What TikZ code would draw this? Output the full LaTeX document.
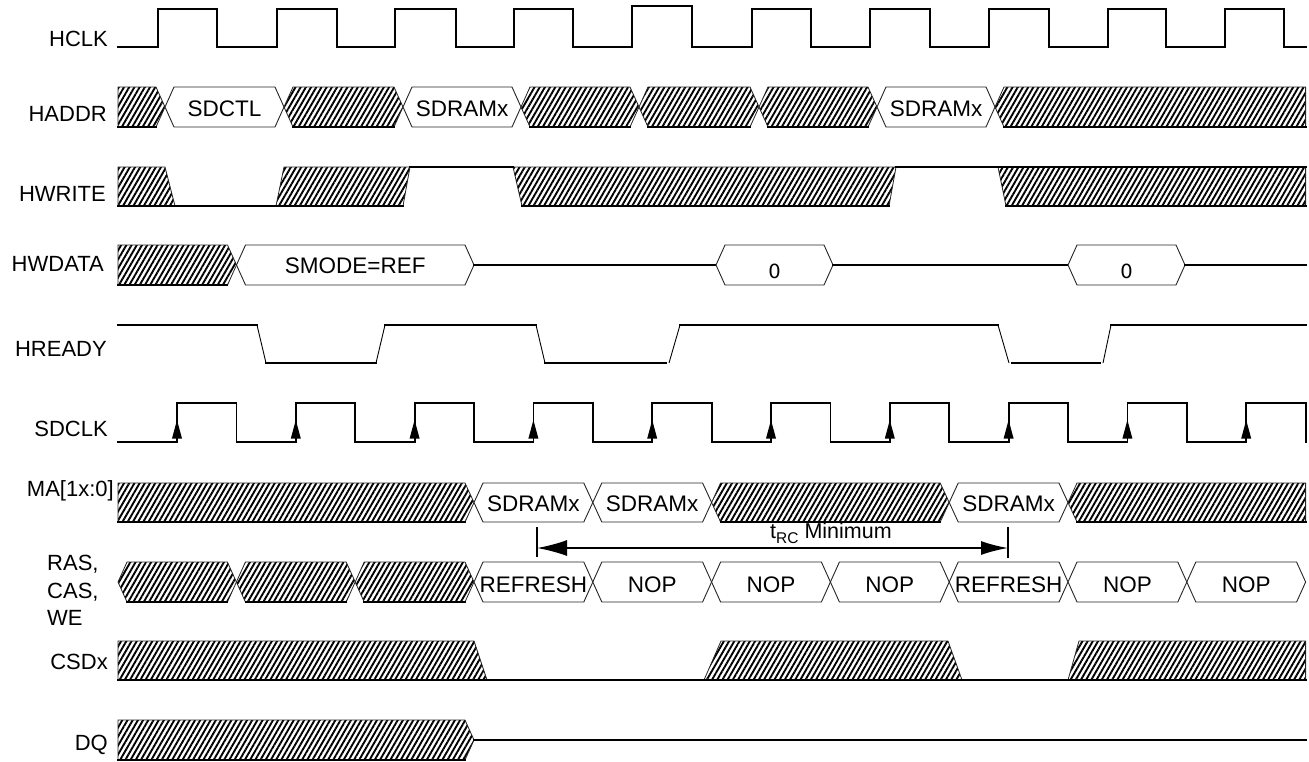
\documentclass[tikz,border=0pt]{standalone}
\usepackage{fontspec}
\setmainfont{Liberation Sans}
\newfontfamily\dejavu{DejaVu Sans}
\usetikzlibrary{patterns.meta,arrows.meta}

\tikzset{
  sig/.style={line width=1.8pt, line join=miter, line cap=rect},
  slant/.style={line width=0.9pt},
  outline/.style={draw=black!85, line width=0.9pt},
  hatchfill/.style={pattern={Lines[angle=60,distance=4.5pt,line width=1.9pt]}, draw=black!85, line width=0.8pt},
  lbl/.style={font=\fontsize{22}{26}\selectfont, inner sep=0pt},
  boxtxt/.style={font=\fontsize{22.5}{26}\selectfont, inner sep=0pt, anchor=base},
  zerotxt/.style={font=\dejavu\fontsize{19.5}{22}\selectfont, inner sep=0pt, anchor=base},
  arrowhead/.style={fill=black},
}

% hexagon outline of a bus segment: x1, x2, top, bottom, style
\newcommand{\HexShape}[5]{%
  \path[#5] (#1,{(#3+#4)/2}) -- (#1+9,#3) -- (#2-9,#3) -- (#2,{(#3+#4)/2})
            -- (#2-9,#4) -- (#1+9,#4) -- cycle;}
\newcommand{\HatchHex}[4]{%
  \HexShape{#1}{#2}{#3}{#4}{hatchfill}
  \draw[sig] (#1+9,#4) -- (#2-9,#4);}
% x1, x2, top, bottom, node name, text, text style, baseline offset
\newcommand{\DataHex}[8]{%
  \HexShape{#1}{#2}{#3}{#4}{outline,fill=white}
  \node[#7] (#5) at ({(#1+#2)/2},{(#3+#4)/2+#8}) {#6};}

\begin{document}
\begin{tikzpicture}[x=1pt,y=-1pt]
\useasboundingbox (0,0) rectangle (1309,761);

% ---------------- labels ----------------
\node[lbl,anchor=base east] (lhclk)   at (108,46.7)  {HCLK};
\node[lbl,anchor=base east] (lhaddr)  at (107,121.7) {HADDR};
\node[lbl,anchor=base east] (lhwrite) at (106,201.7) {HWRITE};
\node[lbl,anchor=base east] (lhwdata) at (104,271.7) {HWDATA};
\node[lbl,anchor=base east] (lhready) at (107,356)   {HREADY};
\node[lbl,anchor=base east] (lsdclk)  at (108,436)   {SDCLK};
\node[lbl,anchor=base east] (lma)     at (114,496.7) {MA[1x:0]};
\node[lbl,anchor=base west] (lras)    at (47,570)    {RAS,};
\node[lbl,anchor=base west] (lcas)    at (47,598)    {CAS,};
\node[lbl,anchor=base west] (lwe)     at (47,625)    {WE};
\node[lbl,anchor=base east] (lcsd)    at (108,669.3) {CSDx};
\node[lbl,anchor=base east] (ldq)     at (108,750.7) {DQ};

% ---------------- HCLK ----------------
\draw[sig] (118,47) -- (158,47) -- (158,9) -- (217,9) -- (217,47)
  -- (277,47) -- (277,9) -- (337,9) -- (337,47)
  -- (395,47) -- (395,9) -- (456,9) -- (456,47)
  -- (514,47) -- (514,9) -- (573,9) -- (573,47)
  -- (632,47) -- (632,6) -- (692,6) -- (692,47)
  -- (752,47) -- (752,9) -- (811,9) -- (811,47)
  -- (870,47) -- (870,9) -- (930,9) -- (930,47)
  -- (989,47) -- (989,9) -- (1049,9) -- (1049,47)
  -- (1108,47) -- (1108,9) -- (1166,9) -- (1166,47)
  -- (1225,47) -- (1225,9) -- (1284,9) -- (1284,47) -- (1305.6,47);

% ---------------- HADDR (87..127) ----------------
\path[hatchfill] (118,87) -- (156,87) -- (165,107) -- (156,127) -- (118,127) -- cycle;
\draw[sig] (118,127) -- (156,127);
\DataHex{165}{284}{87}{127}{haddr1}{SDCTL}{boxtxt}{9}
\HatchHex{284}{403}{87}{127}
\DataHex{403}{521}{87}{127}{haddr2}{SDRAMx}{boxtxt}{9}
\HatchHex{521}{639}{87}{127}
\HatchHex{639}{759}{87}{127}
\HatchHex{759}{877}{87}{127}
\DataHex{877}{995}{87}{127}{haddr3}{SDRAMx}{boxtxt}{9}
\path[hatchfill] (995,107) -- (1004,87) -- (1305.6,87) -- (1305.6,127) -- (1004,127) -- cycle;
\draw[sig] (1004,127) -- (1305.6,127);

% ---------------- HWRITE (167..206) ----------------
\path[hatchfill] (118,167) -- (165,167) -- (175,206) -- (118,206) -- cycle;
\path[hatchfill] (276,206) -- (284,167) -- (410,167) -- (403,206) -- cycle;
\path[hatchfill] (513,167) -- (896,167) -- (889,206) -- (522,206) -- cycle;
\path[hatchfill] (998,167) -- (1305.6,167) -- (1305.6,206) -- (1006,206) -- cycle;
\draw[sig] (118,206) -- (403,206);
\draw[sig] (410,167) -- (513,167);
\draw[sig] (522,206) -- (889,206);
\draw[sig] (896,167) -- (1305.6,167);
\draw[sig] (1006,206) -- (1305.6,206);

% ---------------- HWDATA (245..285) ----------------
\path[hatchfill] (118,245) -- (227.5,245) -- (236.5,265) -- (227.5,285) -- (118,285) -- cycle;
\draw[sig] (118,285) -- (227.5,285);
\DataHex{236.5}{474}{245}{285}{hwdata1}{SMODE=REF}{boxtxt}{8}
\draw[sig] (474,265) -- (716,265);
\DataHex{716}{833}{245}{285}{hwdata2}{0}{zerotxt}{13}
\draw[sig] (833,265) -- (1068,265);
\DataHex{1068}{1185}{245}{285}{hwdata3}{0}{zerotxt}{13}
\draw[sig] (1185,265) -- (1305.6,265);

% ---------------- HREADY (325 / 363) ----------------
\draw[sig] (118,325) -- (257,325);
\draw[slant] (257,325) -- (266,363);
\draw[sig] (266,363) -- (376,363);
\draw[slant] (376,363) -- (385,325);
\draw[sig] (385,325) -- (536,325);
\draw[slant] (536,325) -- (545,363);
\draw[sig] (545,363) -- (666,363);
\draw[slant] (669,363) -- (680,325);
\draw[sig] (680,325) -- (998,325);
\draw[slant] (998,325) -- (1009,363);
\draw[sig] (1012,363) -- (1100,363);
\draw[slant] (1103,363) -- (1111,325);
\draw[sig] (1111,325) -- (1305.6,325);

% ---------------- SDCLK (403 / 442) ----------------
\draw[sig] (118,442)
  foreach \r in {177,295.8,414.6,533.4,652.2,771,889.8,1008.6,1127.4,1246.2}
  { -- (\r,442) -- (\r,403) -- ({\r+59.4},403) -- ({\r+59.4},442) };
\foreach \r in {177,295.8,414.6,533.4,652.2,771,889.8,1008.6,1127.4,1246.2}
  \fill[arrowhead] (\r,420) -- (\r-5,438.5) -- (\r+5,438.5) -- cycle;

% ---------------- MA[1x:0] (483..522) ----------------
\path[hatchfill] (118,483) -- (465,483) -- (474,502.5) -- (465,522) -- (118,522) -- cycle;
\draw[sig] (118,522) -- (465,522);
\DataHex{474}{592.8}{483}{522}{ma1}{SDRAMx}{boxtxt}{9}
\DataHex{592.8}{711.6}{483}{522}{ma2}{SDRAMx}{boxtxt}{9}
\HatchHex{711.6}{949.2}{483}{522}
\DataHex{949.2}{1068}{483}{522}{ma3}{SDRAMx}{boxtxt}{9}
\path[hatchfill] (1068,502.5) -- (1077,483) -- (1305.6,483) -- (1305.6,522) -- (1077,522) -- cycle;
\draw[sig] (1077,522) -- (1305.6,522);

% ---------------- tRC Minimum ----------------
\coordinate (trcL) at (537,548);
\coordinate (trcR) at (1008,548);
\draw[line width=1.2pt] (537,527) -- (537,557);
\draw[line width=1.2pt] (1008,527) -- (1008,558);
\draw[line width=1.6pt, {Latex[length=30pt,width=16pt]}-{Latex[length=27pt,width=14pt]}] (trcL) -- (trcR);
\node[anchor=base west, inner sep=0pt, font=\fontsize{21.5}{25}\selectfont] (trc) at (770,538)
  {t\raisebox{-5pt}{\fontsize{15.5}{15}\selectfont RC} Minimum};

% ---------------- RAS, CAS, WE (562..602) ----------------
\HatchHex{118}{236.4}{562}{602}
\HatchHex{236.4}{355.2}{562}{602}
\HatchHex{355.2}{474}{562}{602}
\DataHex{474}{592.8}{562}{602}{cmd1}{REFRESH}{boxtxt}{10}
\DataHex{592.8}{711.6}{562}{602}{cmd2}{NOP}{boxtxt}{10}
\DataHex{711.6}{830.4}{562}{602}{cmd3}{NOP}{boxtxt}{10}
\DataHex{830.4}{949.2}{562}{602}{cmd4}{NOP}{boxtxt}{10}
\DataHex{949.2}{1068}{562}{602}{cmd5}{REFRESH}{boxtxt}{10}
\DataHex{1068}{1186.8}{562}{602}{cmd6}{NOP}{boxtxt}{10}
\DataHex{1186.8}{1305.6}{562}{602}{cmd7}{NOP}{boxtxt}{10}

% ---------------- CSDx (641..680) ----------------
\path[hatchfill] (118,641) -- (474,641) -- (487,680) -- (118,680) -- cycle;
\path[hatchfill] (704,680) -- (721,641) -- (948,641) -- (962,680) -- cycle;
\path[hatchfill] (1068,680) -- (1079,641) -- (1305.6,641) -- (1305.6,680) -- cycle;
\draw[sig] (118,680) -- (1305.6,680);

% ---------------- DQ (720..760) ----------------
\path[hatchfill] (118,720) -- (465,720) -- (474,740) -- (465,760) -- (118,760) -- cycle;
\draw[sig] (118,760) -- (465,760);
\draw[sig] (474,740) -- (1305.6,740);
\end{tikzpicture}
\end{document}
